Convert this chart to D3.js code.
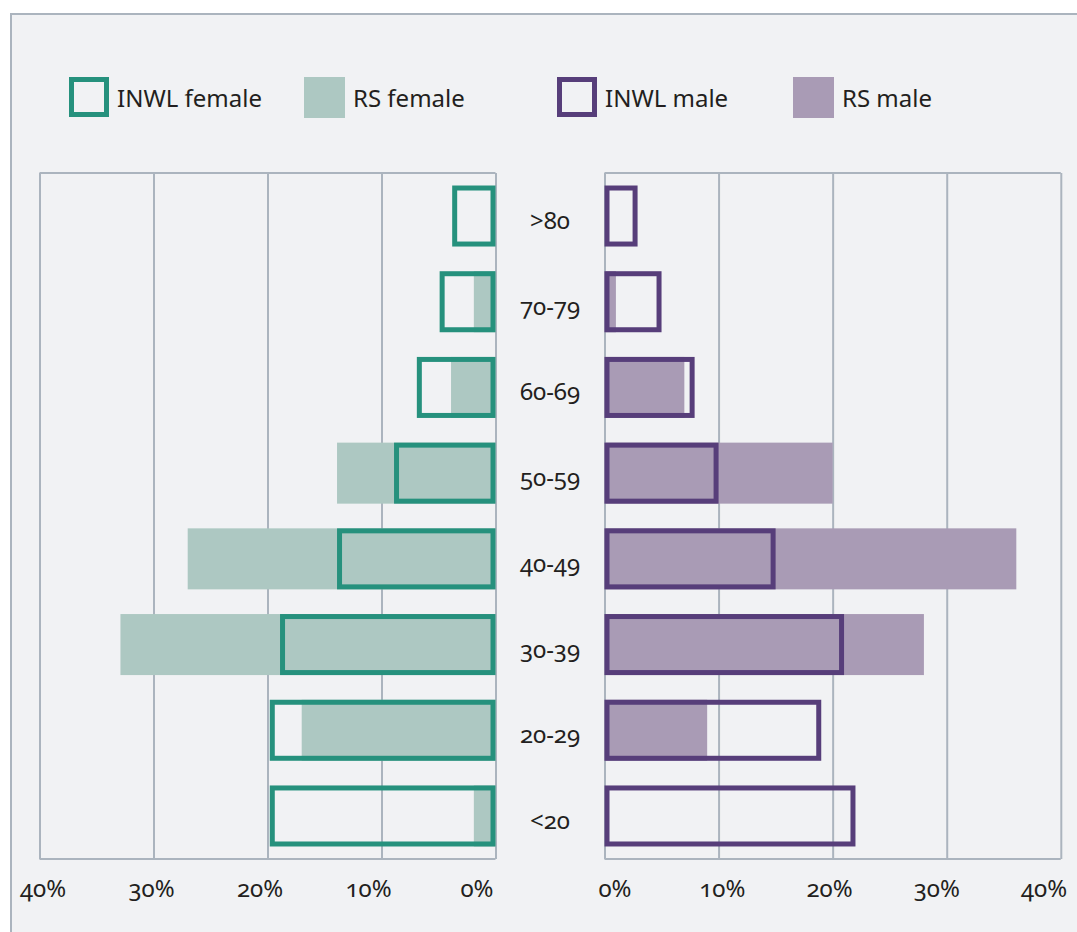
<!DOCTYPE html>
<html>
<head>
<meta charset="utf-8">
<script src="https://cdn.jsdelivr.net/npm/d3@7"></script>
<style>
  body { margin: 0; background: #fff; }
  svg text {
    font-family: 'Noto Sans', 'Open Sans', sans-serif;
    font-size: 24px;
    fill: #231f20;
    font-variant-numeric: oldstyle-nums;
    font-feature-settings: 'onum' 1;
  }
</style>
</head>
<body>
<div id="chart"></div>
<script>
// age groups, top to bottom
const ageGroups = ['>80', '70-79', '60-69', '50-59', '40-49', '30-39', '20-29', '<20'];

// percentages
const inwlFemale = [3.8, 4.9, 6.9, 8.9, 13.9, 18.9, 19.8, 19.8];
const rsFemale = [0, 1.9, 3.9, 13.9, 27.0, 32.9, 17.0, 1.9];
const inwlMale = [2.9, 5.0, 7.9, 10.0, 15.0, 21.0, 19.0, 22.0];
const rsMale = [0, 1.0, 7.0, 20.0, 36.1, 28.0, 9.0, 0];

const tickValues = [0, 10, 20, 30, 40];
const tickLabels = ['0%', '10%', '20%', '30%', '40%'];

const legendItems = [
  { label: 'INWL female', type: 'outline', color: '#26917d' },
  { label: 'RS female', type: 'fill', color: '#adc8c2' },
  { label: 'INWL male', type: 'outline', color: '#573e7a' },
  { label: 'RS male', type: 'fill', color: '#a99bb5' },
];

const width = 1077;
const height = 932;
const plotTop = 173;
const plotBottom = 859;
const gridColor = '#abb4be';
const sw = 5; // outline stroke, drawn inside the bar

const svg = d3.select('#chart')
  .append('svg')
  .attr('width', width)
  .attr('height', height);

// frame
svg.append('rect')
  .attr('x', 10).attr('y', 13)
  .attr('width', width - 10).attr('height', height - 13)
  .attr('fill', '#f1f2f4');
svg.append('path')
  .attr('d', `M11,${height} V14 H${width}`)
  .attr('fill', 'none')
  .attr('stroke', gridColor)
  .attr('stroke-width', 2);

// scales
const y = d3.scaleBand()
  .domain(ageGroups)
  .range([plotTop, plotBottom])
  .paddingInner(0.288)
  .paddingOuter(0.146);

const xL = d3.scaleLinear().domain([0, 40]).range([495.5, 39.5]);
const xR = d3.scaleLinear().domain([0, 40]).range([604.5, 1060.8]);

// tick labels in the source sit a little off their gridlines
const labelL = d3.scaleLinear().domain([0, 40]).range([477, 43]);
const labelR = d3.scaleLinear().domain([0, 40]).range([615, 1044]);

const panels = [
  { x: xL, label: labelL, inwl: inwlFemale, rs: rsFemale, stroke: legendItems[0].color, fill: legendItems[1].color },
  { x: xR, label: labelR, inwl: inwlMale, rs: rsMale, stroke: legendItems[2].color, fill: legendItems[3].color },
];

panels.forEach((p) => {
  // gridlines
  svg.append('g')
    .attr('transform', `translate(0, ${plotBottom})`)
    .call(d3.axisBottom(p.x)
      .tickValues(tickValues)
      .tickSize(-(plotBottom - plotTop))
      .tickSizeOuter(0)
      .tickFormat(''))
    .call((g) => g.select('.domain').remove())
    .call((g) => g.selectAll('.tick line').attr('stroke', gridColor).attr('stroke-width', 2));

  // top / bottom border of the panel
  [plotTop, plotBottom].forEach((yy) => {
    svg.append('line')
      .attr('x1', p.x(40)).attr('x2', p.x(0))
      .attr('y1', yy).attr('y2', yy)
      .attr('stroke', gridColor)
      .attr('stroke-width', 2);
  });

  // RS filled bars
  svg.append('g')
    .selectAll('rect')
    .data(ageGroups)
    .enter()
    .append('rect')
    .attr('x', (d, i) => Math.min(p.x(0), p.x(p.rs[i])))
    .attr('y', (d) => y(d))
    .attr('width', (d, i) => Math.abs(p.x(p.rs[i]) - p.x(0)))
    .attr('height', y.bandwidth())
    .attr('fill', p.fill);

  // INWL outlined bars
  svg.append('g')
    .selectAll('rect')
    .data(ageGroups)
    .enter()
    .append('rect')
    .attr('x', (d, i) => Math.min(p.x(0), p.x(p.inwl[i])) + sw / 2)
    .attr('y', (d) => y(d) + sw / 2)
    .attr('width', (d, i) => Math.abs(p.x(p.inwl[i]) - p.x(0)) - sw)
    .attr('height', y.bandwidth() - sw)
    .attr('fill', 'none')
    .attr('stroke', p.stroke)
    .attr('stroke-width', sw);

  // percent labels
  svg.append('g')
    .selectAll('text')
    .data(tickValues)
    .enter()
    .append('text')
    .attr('x', (d) => p.label(d))
    .attr('y', 897)
    .attr('text-anchor', 'middle')
    .text((d, i) => tickLabels[i]);
});

// age group labels in the middle
svg.append('g')
  .selectAll('text')
  .data(ageGroups)
  .enter()
  .append('text')
  .attr('x', 550)
  .attr('y', (d) => y(d) + y.bandwidth() / 2 + 13)
  .attr('text-anchor', 'middle')
  .text((d) => d);

// legend
const legendX = [69, 304, 557, 793];
const legend = svg.append('g')
  .selectAll('g')
  .data(legendItems)
  .enter()
  .append('g')
  .attr('transform', (d, i) => `translate(${legendX[i]}, 77)`);

legend.append('rect')
  .attr('x', (d) => (d.type === 'outline' ? sw / 2 : 0))
  .attr('y', (d) => (d.type === 'outline' ? sw / 2 : 0))
  .attr('width', (d) => (d.type === 'outline' ? 40 - sw : 41))
  .attr('height', (d) => (d.type === 'outline' ? 40 - sw : 41))
  .attr('fill', (d) => (d.type === 'outline' ? 'none' : d.color))
  .attr('stroke', (d) => (d.type === 'outline' ? d.color : 'none'))
  .attr('stroke-width', sw);

legend.append('text')
  .attr('x', (d) => (d.type === 'outline' ? 48 : 49))
  .attr('y', 30)
  .text((d) => d.label);
</script>
</body>
</html>
